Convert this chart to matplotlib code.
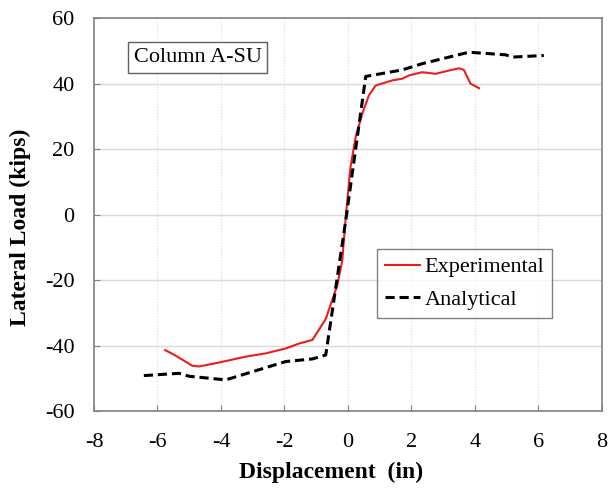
import matplotlib
matplotlib.use('Agg')
from matplotlib import pyplot as plt

exp_disp = [-5.76, -5.48, -4.9, -4.69, -4.06, -3.22, -2.59, -1.96, -1.54, -1.12, -0.70, -0.34,
            -0.18, -0.07, 0.08, 0.24, 0.45, 0.66, 0.87, 1.40, 1.71, 1.92, 2.34, 2.76, 3.18,
            3.50, 3.65, 3.86, 4.13]
exp_load = [-41.4, -42.8, -46.2, -46.4, -45.2, -43.4, -42.4, -40.9, -39.4, -38.3, -31.9, -21.7,
            -14.1, -0.8, 14.5, 23.6, 30.8, 36.4, 39.4, 41.0, 41.5, 42.5, 43.5, 43.0, 44.0,
            44.7, 44.2, 40.0, 38.6]

ana_disp = [-6.43, -5.32, -5.0, -3.85, -1.96, -1.12, -0.70, -0.07, 0.56, 1.71, 2.34, 3.81,
            4.97, 5.17, 6.17]
ana_load = [-49.2, -48.5, -49.4, -50.5, -44.9, -44.1, -42.9, -1.8, 42.2, 44.2, 46.1, 49.6,
            48.8, 48.1, 48.6]

x_ticks = [-8, -6, -4, -2, 0, 2, 4, 6, 8]
y_ticks = [-60, -40, -20, 0, 20, 40, 60]

plt.rcParams['font.family'] = ['Liberation Serif', 'DejaVu Serif']
plt.rcParams['axes.unicode_minus'] = False

fig = plt.figure(figsize=(6.08, 4.91), dpi=100)
ax = fig.add_axes([0.1546, 0.163, 0.8354, 0.800])

# grid: solid horizontal, dotted vertical
for y in y_ticks[1:-1]:
    ax.axhline(y, color='#d9d9d9', lw=1.0, zorder=0)
for x in x_ticks[1:-1]:
    ax.axvline(x, color='#d9d9d9', lw=0.8, ls=':', zorder=0)

ax.plot(exp_disp, exp_load, color='#ee1c1c', lw=1.5, label='Experimental')
ax.plot(ana_disp, ana_load, color='black', lw=2.2, ls=(0, (3, 1.6)), label='Analytical')

ax.set_xlim(-8, 8)
ax.set_ylim(-60, 60)
ax.set_xticks(x_ticks)
ax.set_yticks(y_ticks)
ax.tick_params(direction='in', length=4, color='#808080', labelsize=16)
ax.tick_params(axis='y', pad=14)
ax.tick_params(axis='x', pad=16)
for s in ax.spines.values():
    s.set_color('#808080')
    s.set_linewidth(1.2)

ax.set_xlabel('Displacement  (in)', fontsize=17, fontweight='bold')
ax.xaxis.set_label_coords(0.467, -0.130)
ax.set_ylabel('Lateral Load (kips)', fontsize=17, fontweight='bold')
ax.yaxis.set_label_coords(-0.124, 0.468)

ax.text(-6.75, 48.0, 'Column A-SU', fontsize=16, va='center', ha='left',
        bbox=dict(boxstyle='square,pad=0.25', fc='white', ec='#606060', lw=1.0))

leg = ax.legend(loc='lower right', bbox_to_anchor=(0.902, 0.237), fontsize=16, frameon=True,
                fancybox=False, edgecolor='#606060', handlelength=1.6, handletextpad=0.2,
                borderpad=0.35, labelspacing=0.55, borderaxespad=0)
leg.get_frame().set_linewidth(1.0)

fig.savefig('out.png', dpi=100)
